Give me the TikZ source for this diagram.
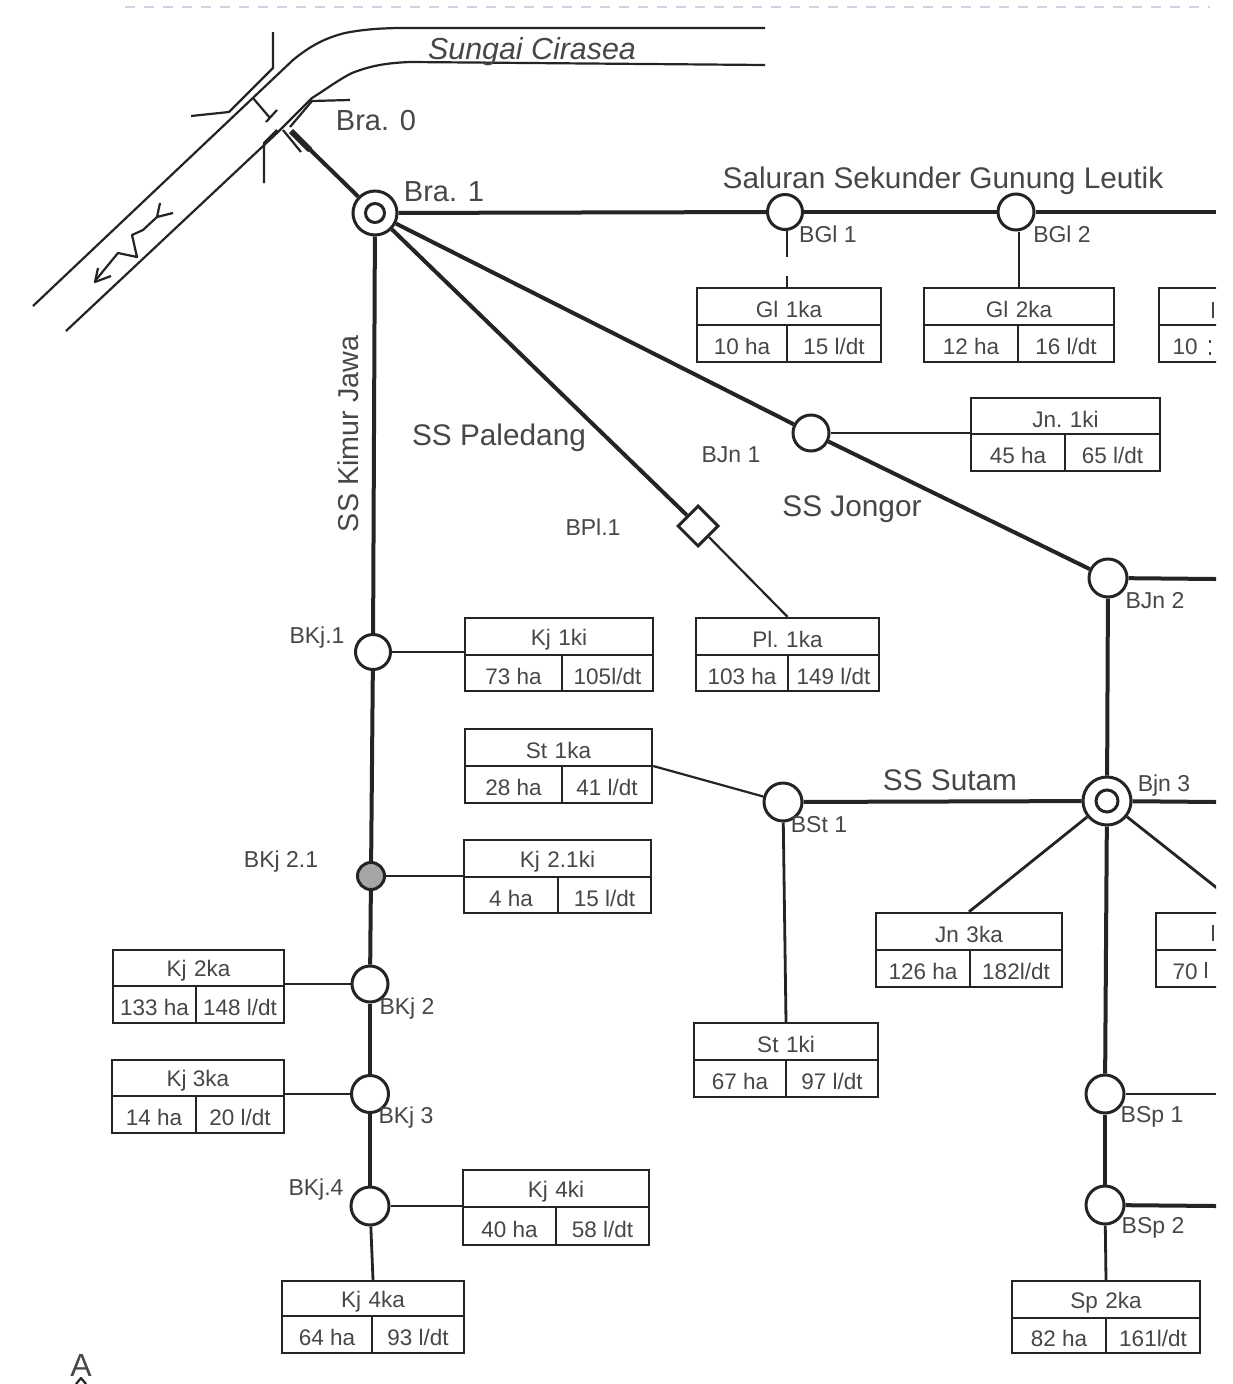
\documentclass[tikz,border=0pt]{standalone}
\usepackage{fontspec}
\setmainfont{Liberation Sans}
\usetikzlibrary{shapes.geometric,calc}
\definecolor{ink}{gray}{0.14}
\definecolor{txt}{gray}{0.28}
\definecolor{dashc}{RGB}{205,214,224}
\tikzset{
  main/.style={draw=ink,line width=4pt},
  mid/.style={draw=ink,line width=2.8pt},
  thinl/.style={draw=ink,line width=2.2pt},
  bank/.style={draw=ink,line width=2.2pt,line join=round},
  gate/.style={circle,draw=ink,line width=3pt,fill=white,inner sep=0pt},
  boxn/.style={rectangle,draw=ink,line width=2.4pt,fill=white,inner sep=0pt},
  big/.style={text=txt,inner sep=0pt,yshift=-3pt,font=\fontsize{29.8}{30}\selectfont},
  small/.style={text=txt,inner sep=0pt,yshift=-2.5pt,font=\fontsize{23}{23}\selectfont},
  cell/.style={text=txt,inner sep=0pt,yshift=-3pt,font=\fontsize{22.5}{22.5}\selectfont},
}
\def\cellsplit#1|#2\relax{\def\cellL{#1}\def\cellR{#2}}
% name, x1, y1, x2, y2, ymid, xsplit, title, left|right
\newcommand\tbl[9]{%
  \node[boxn,minimum width={(#4-#2)*1pt},minimum height={(#5-#3)*1pt}] (#1) at ({(#2+#4)/2},{(#3+#5)/2}) {};
  \draw[thinl] (#2,#6) -- (#4,#6);
  \draw[thinl] (#7,#6) -- (#7,#5);
  \cellsplit#9\relax
  \node[cell] (#1t) at ({(#2+#4)/2},{(#3+#6)/2}) {#8};
  \node[cell] (#1l) at ({(#2+#7)/2},{(#6+#5)/2}) {\cellL};
  \node[cell] (#1r) at ({(#7+#4)/2},{(#6+#5)/2}) {\cellR};
}
\begin{document}
\begin{tikzpicture}[x=1pt,y=-1pt]
\useasboundingbox[fill=white] (0,0) rectangle (1233,1384);
\clip (0,0) rectangle (1216,1384);

% top dashed line
\draw[dashc,line width=1.5pt,dash pattern=on 10pt off 9pt] (125,7) -- (1210,7);

% river
\draw[bank] (33,306) -- (293,60) .. controls (310,46) and (325,38) .. (345,33) .. controls (365,29) and (385,28) .. (405,28) -- (765,28);
\draw[bank] (66,331) -- (277,133) -- (312,98) .. controls (325,90) and (338,80) .. (352,73) .. controls (370,66) and (385,63) .. (410,62) -- (765,65);
\draw[bank] (273,32) -- (273,68) -- (229,112) -- (191,116);
\draw[bank] (253,98) -- (270,118);
\draw[bank] (266,122) -- (277,110);
\draw[bank] (264,183) -- (264,143) -- (277,130);
\draw[bank] (350,100) -- (312,101) -- (290,127);
\draw[bank] (283,130) -- (301,152);
% flow arrow
\draw[bank] (160,203) -- (157,217) -- (173,213);
\draw[bank] (157,217) -- (143,230) -- (132,235) -- (137,257) -- (118,253) -- (95,281);
\draw[bank] (98,268) -- (95,282) -- (111,276);
\node[big,font=\itshape\fontsize{30.4}{30.4}\selectfont] (sungai) at (532,49) {Sungai Cirasea};

% gates
\node[gate,minimum size=44pt] (bra1) at (375,213) {};
\node[gate,minimum size=19pt] (bra1i) at (375,213) {};
\node[gate,minimum size=35pt] (bgl1) at (785,212) {};
\node[gate,minimum size=36pt] (bgl2) at (1016,212) {};
\node[gate,minimum size=36pt] (bjn1) at (811,433) {};
\node[gate,minimum size=38pt] (bjn2) at (1108,578) {};
\node[draw=ink,line width=3pt,fill=white,diamond,aspect=1,minimum size=41pt,inner sep=0pt] (bpl1) at (698,526) {};
\node[gate,minimum size=35pt] (bkj1) at (373,652) {};
\node[gate,minimum size=27pt,fill=gray!70] (bkj21) at (371,876) {};
\node[gate,minimum size=36pt] (bkj2) at (370,984) {};
\node[gate,minimum size=37pt] (bkj3) at (370,1094) {};
\node[gate,minimum size=38pt] (bkj4) at (370,1206) {};
\node[gate,minimum size=38pt] (bst1) at (783,802) {};
\node[gate,minimum size=48pt] (bjn3) at (1107,801) {};
\node[gate,minimum size=22pt] (bjn3i) at (1107,801) {};
\node[gate,minimum size=38pt] (bsp1) at (1105,1094) {};
\node[gate,minimum size=38pt] (bsp2) at (1105,1205) {};

% tables
\tbl{gla}{697}{288}{881}{362}{325}{787}{Gl\,\,1ka}{10 ha|15 l/dt}
\tbl{glb}{924}{288}{1114}{362}{325}{1018}{Gl\,\,2ka}{12 ha|16 l/dt}
\tbl{glc}{1159}{288}{1337}{362}{325}{1250}{}{|}
\tbl{jna}{971}{398}{1160}{471}{434}{1065}{Jn.\,\,1ki}{45 ha|65 l/dt}
\tbl{kja}{465}{618}{653}{691}{655}{562}{Kj\,\,1ki}{73 ha|105l/dt}
\tbl{pla}{696}{618}{879}{691}{655}{788}{Pl.\,\,1ka}{103 ha|149 l/dt}
\tbl{sta}{465}{729}{652}{803}{766}{562}{St\,\,1ka}{28 ha|41 l/dt}
\tbl{kjb}{464}{840}{651}{913}{877}{558}{Kj\,\,2.1ki}{4 ha|15 l/dt}
\tbl{kjc}{113}{950}{284}{1023}{986}{196}{Kj\,\,2ka}{133 ha|148 l/dt}
\tbl{kjd}{112}{1060}{284}{1133}{1096}{196}{Kj 3ka}{14 ha|20 l/dt}
\tbl{kje}{463}{1170}{649}{1245}{1207}{556}{Kj\,\,4ki}{40 ha|58 l/dt}
\tbl{kjf}{282}{1281}{464}{1353}{1316}{372}{Kj\,\,4ka}{64 ha|93 l/dt}
\tbl{stb}{694}{1023}{878}{1097}{1060}{786}{St\,\,1ki}{67 ha|97 l/dt}
\tbl{jnb}{876}{913}{1062}{987}{950}{970}{Jn\,\,3ka}{126 ha|182l/dt}
\tbl{jnc}{1156}{913}{1338}{987}{950}{1248}{}{|}
\tbl{spa}{1012}{1281}{1200}{1353}{1318}{1106}{Sp\,\,2ka}{82 ha|161l/dt}
% parts of the two tables that the right edge cuts
\node[cell] (glcl) at (1185,343.5) {10};
\node[cell] (jncl) at (1185,968.5) {70};
\draw[thinl,draw=txt] (1213,302) -- (1213,318);
\draw[thinl,draw=txt] (1213,925) -- (1213,941);
\draw[thinl,draw=txt] (1210,340) -- (1210,343);
\draw[thinl,draw=txt] (1210,352) -- (1210,355);
\draw[thinl,draw=txt] (1206,962) -- (1206,978);

% free ends
\coordinate (e1) at (1216,212);
\coordinate (e2) at (1216,579);
\coordinate (e3) at (1216,802);
\coordinate (e4) at (1216,1094);
\coordinate (e5) at (1216,1206);
\coordinate (intake) at (292,132);
\coordinate (g1a) at (787,257);
\coordinate (g1b) at (787,276);

% connectors
\draw[main] (intake) -- (bra1);
\draw[main,line width=6pt] (291,131) -- (310,150);
\draw[main] (bra1) -- (bgl1);
\draw[main] (bgl1) -- (bgl2);
\draw[main] (bgl2) -- (e1);
\draw[mid] (bgl1.south -| g1a) -- (g1a);
\draw[mid] (g1b) -- (gla.north -| g1b);
\draw[mid] (bgl2.south -| glb.north) -- (glb.north);
\draw[main] (bra1) -- (bjn1);
\draw[main] (bjn1) -- (bjn2);
\draw[mid] (bjn1) -- (bjn1 -| jna.west);
\draw[main] (bra1) -- (bpl1);
\draw[thinl] (bpl1) -- (pla.north);
\draw[main] (bjn2) -- (e2);
\draw[main] (bjn2) -- (bjn3);
\draw[main] (bra1) -- (bkj1);
\draw[main] (bkj1) -- (bkj21);
\draw[main] (bkj21) -- (bkj2);
\draw[main] (bkj2) -- (bkj3);
\draw[main] (bkj3) -- (bkj4);
\draw[mid] (bkj4) -- (kjf.north);
\draw[mid] (bkj1) -- (bkj1 -| kja.west);
\draw[mid] (bkj21) -- (bkj21 -| kjb.west);
\draw[mid] (bkj2) -- (bkj2 -| kjc.east);
\draw[mid] (bkj3) -- (bkj3 -| kjd.east);
\draw[mid] (bkj4) -- (bkj4 -| kje.west);
\draw[thinl] (sta.east) -- (bst1);
\draw[main] (bst1) -- (bjn3);
\draw[mid] (bst1) -- (stb.north);
\draw[main] (bjn3) -- (e3);
\draw[mid] (bjn3) -- (jnb.north);
\draw[mid] (bjn3) -- (jnc.north);
\draw[main] (bjn3) -- (bsp1);
\draw[main] (bsp1) -- (bsp2);
\draw[mid] (bsp1) -- (e4);
\draw[main] (bsp2) -- (e5);
\draw[mid] (bsp2) -- (spa.north);

% labels
\node[big,font=\fontsize{29}{29}\selectfont] (lbra0) at (376,118) {Bra. 0};
\node[big,font=\fontsize{29}{29}\selectfont] (lbra1) at (444,189) {Bra. 1};
\node[big] (lsal) at (943,178) {Saluran Sekunder Gunung Leutik};
\node[big] (lpal) at (499,435) {SS Paledang};
\node[big] (ljon) at (852,506) {SS Jongor};
\node[big] (lsut) at (950,777) {SS Sutam};
\node[big,rotate=90,font=\fontsize{28.7}{29}\selectfont,xshift=-1pt,yshift=3pt] (lkim) at (351,430) {SS Kimur Jawa};
\node[small] (lbgl1) at (828,232) {BGl 1};
\node[small] (lbgl2) at (1062,232) {BGl 2};
\node[small] (lbjn1) at (731,452) {BJn 1};
\node[small] (lbjn2) at (1155,598) {BJn 2};
\node[small] (lbpl) at (593,525) {BPl.1};
\node[small] (lbkj1) at (317,635) {BKj.1};
\node[small] (lbkj21) at (281,859) {BKj 2.1};
\node[small] (lbkj2) at (407,1006) {BKj 2};
\node[small] (lbkj3) at (406,1115) {BKj 3};
\node[small] (lbkj4) at (316,1187) {BKj.4};
\node[small] (lbst) at (819,822) {BSt 1};
\node[small] (lbjn3) at (1164,783) {Bjn 3};
\node[small] (lbsp1) at (1152,1114) {BSp 1};
\node[small] (lbsp2) at (1153,1225) {BSp 2};
\node[big,font=\fontsize{32}{32}\selectfont] (la) at (81,1362) {A};
\draw[bank] (76,1384) -- (81,1378) -- (86,1384);
\end{tikzpicture}
\end{document}
